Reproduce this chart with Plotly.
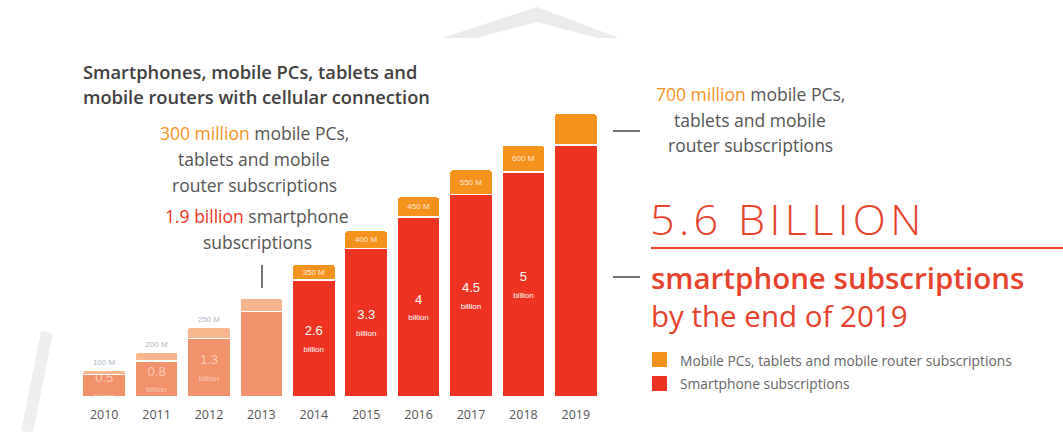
import plotly.graph_objects as go

W, H = 1063, 432

# ---- data ----
years = ["2010", "2011", "2012", "2013", "2014", "2015", "2016", "2017", "2018", "2019"]
smartphone_bn = [0.5, 0.8, 1.3, 1.9, 2.6, 3.3, 4.0, 4.5, 5.0, 5.6]
other_bn = [0.1, 0.2, 0.25, 0.3, 0.35, 0.4, 0.45, 0.55, 0.6, 0.7]
smart_labels = ["0.5", "0.8", "1.3", "", "2.6", "3.3", "4", "4.5", "5", ""]
other_labels = ["100 M", "200 M", "250 M", "", "350 M", "400 M", "450 M", "550 M", "600 M", ""]
historic = [True, True, True, True, False, False, False, False, False, False]

RED = "#EE3322"
ORANGE = "#F5921E"
SALMON = "#F2926C"
PEACH = "#F7B68C"
GRAY = "#555555"
BIGRED = "#E8412C"
FONT = "Open Sans"


def px(x):
    return x / W


def py(y):
    return 1 - y / H


smart_colors = [SALMON if h else RED for h in historic]
other_colors = [PEACH if h else ORANGE for h in historic]

smart_text = [
    (f"{v}<br><span style='font-size:8px'>billion</span>" if v else "") for v in smart_labels
]
smart_text_colors = ["rgba(255,255,255,0.55)" if h else "white" for h in historic]
other_text_pos = ["outside" if h else "inside" for h in historic]
other_text_colors = ["#A9B6C4" if h else "rgba(255,255,255,0.85)" for h in historic]

fig = go.Figure()
fig.add_trace(go.Bar(
    x=years, y=smartphone_bn, name="Smartphone subscriptions",
    marker=dict(color=smart_colors, line=dict(color="white", width=1.2)),
    text=smart_text, textposition="inside", insidetextanchor="middle",
    textangle=0, constraintext="none",
    textfont=dict(family="Liberation Sans", size=13, color=smart_text_colors),
    showlegend=False, hoverinfo="skip",
))
fig.add_trace(go.Bar(
    x=years, y=other_bn, name="Mobile PCs, tablets and mobile router subscriptions",
    marker=dict(color=other_colors, line=dict(color="white", width=1.2)),
    text=other_labels, textposition=other_text_pos, insidetextanchor="middle",
    textangle=0, constraintext="none", cliponaxis=False,
    textfont=dict(family="Liberation Sans", size=8, color=other_text_colors),
    showlegend=False, hoverinfo="skip",
))

annotations = []


def txt(x, y, s, size, color=GRAY, anchor="center", family=FONT, weight=None):
    f = dict(family=family, size=size, color=color)
    if weight is not None:
        f["weight"] = weight
    annotations.append(dict(
        x=px(x), y=py(y), xref="paper", yref="paper", text=s,
        showarrow=False, xanchor=anchor, yanchor="middle", font=f,
    ))


# title
txt(81, 72, "Smartphones, mobile PCs, tablets and", 18.3, "#404040", anchor="left", weight=600)
txt(81, 96, "mobile routers with cellular connection", 18.3, "#404040", anchor="left", weight=600)

# 2013 callout
txt(254, 133, f"<span style='color:{ORANGE}'>300 million</span> mobile PCs,", 17.5)
txt(254, 159, "tablets and mobile", 17.5)
txt(254, 185, "router subscriptions", 17.5)
txt(257, 216, f"<span style='color:{RED}'>1.9 billion</span> smartphone", 17.5)
txt(257, 242, "subscriptions", 17.5)

# 2019 callout
txt(750, 94, f"<span style='color:{ORANGE}'>700 million</span> mobile PCs,", 17.5)
txt(750, 120, "tablets and mobile", 17.5)
txt(750, 145, "router subscriptions", 17.5)

HS = "\u200a"
big = HS.join(list("5.6 BILLION"))
txt(648, 218, big, 43.2, BIGRED, anchor="left", weight=300)
txt(649, 277, "smartphone subscriptions", 29.5, BIGRED, anchor="left", weight=600)
txt(649, 315, "by the end of 2019", 29.5, BIGRED, anchor="left")

# legend
txt(678, 360, "Mobile PCs, tablets and mobile router subscriptions", 13.8, "#666666", anchor="left")
txt(678, 383, "Smartphone subscriptions", 13.8, "#666666", anchor="left")

shapes = []
# watermark
chev = [(442, 38), (537, 7), (619, 38), (598, 38), (537, 22), (476, 38)]
path = "M " + " L ".join(f"{px(a):.5f},{py(b):.5f}" for a, b in chev) + " Z"
shapes.append(dict(type="path", path=path, xref="paper", yref="paper",
                   fillcolor="#EAEAEA", line=dict(width=0), layer="below"))
shapes.append(dict(type="line", xref="paper", yref="paper", x0=px(47), y0=py(332), x1=px(27), y1=py(432),
                   line=dict(color="#EEEEEE", width=12), layer="below"))
# callout ticks
shapes.append(dict(type="line", xref="paper", yref="paper", x0=px(262), y0=py(265), x1=px(262), y1=py(288),
                   line=dict(color="#444444", width=1.5)))
shapes.append(dict(type="line", xref="paper", yref="paper", x0=px(613), y0=py(131), x1=px(640), y1=py(131),
                   line=dict(color="#444444", width=1.5)))
shapes.append(dict(type="line", xref="paper", yref="paper", x0=px(613), y0=py(277), x1=px(640), y1=py(277),
                   line=dict(color="#444444", width=1.5)))
# underline of big number
shapes.append(dict(type="line", xref="paper", yref="paper", x0=px(651), y0=py(248), x1=1, y1=py(248),
                   line=dict(color=BIGRED, width=2)))
# legend swatches
shapes.append(dict(type="rect", xref="paper", yref="paper", x0=px(652), y0=py(352), x1=px(667), y1=py(367),
                   fillcolor=ORANGE, line=dict(width=0)))
shapes.append(dict(type="rect", xref="paper", yref="paper", x0=px(652), y0=py(376), x1=px(667), y1=py(391),
                   fillcolor=RED, line=dict(width=0)))

fig.update_layout(
    width=W, height=H,
    margin=dict(l=0, r=0, t=0, b=0),
    paper_bgcolor="white", plot_bgcolor="white",
    barmode="stack", bargap=0.18, barcornerradius=4,
    xaxis=dict(domain=[px(78), px(602)], showgrid=False, zeroline=False, showline=False,
               ticks="", ticklabelstandoff=8,
               tickfont=dict(family=FONT, size=12.5, color="#555555")),
    yaxis=dict(domain=[py(397), py(397) + 360 / H], range=[0, 8], visible=False),
    annotations=annotations, shapes=shapes,
)

fig.write_html("out.html")
